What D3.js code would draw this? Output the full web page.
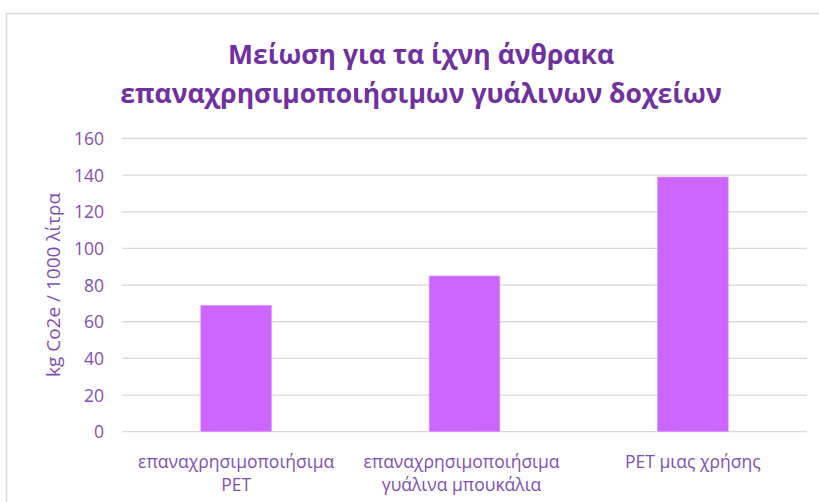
<!DOCTYPE html>
<html><head><meta charset="utf-8">
<script src="https://cdn.jsdelivr.net/npm/d3@7"></script>
<style>body{margin:0;background:#fff}svg{display:block}</style>
</head><body>
<svg id="c" width="819" height="502"></svg>
<script>
const titleLines = ["Μείωση για τα ίχνη άνθρακα", "επαναχρησιμοποιήσιμων γυάλινων δοχείων"];
const categories = [["επαναχρησιμοποιήσιμα", "PET"], ["επαναχρησιμοποιήσιμα", "γυάλινα μπουκάλια"], ["PET μιας χρήσης"]];
const values = [69, 85, 139];
const yTicks = [0, 20, 40, 60, 80, 100, 120, 140, 160];
const yTitle = "kg Co2e / 1000 λίτρα";

const svg = d3.select("#c");
const font = "'Open Sans', 'Noto Sans', sans-serif";
const txtColor = "#7F4FB5";
svg.append("rect").attr("x", 6.5).attr("y", 13.5).attr("width", 830).attr("height", 500)
  .attr("fill", "#fff").attr("stroke", "#d9d9d9").attr("stroke-width", 1.5);

const x = d3.scaleBand().domain(d3.range(values.length)).range([122, 807]).paddingInner(0.69).paddingOuter(0.345);
const y = d3.scaleLinear().domain([0, 160]).range([431.7, 138.5]);

const g = svg.append("g");
g.selectAll("line.grid").data(yTicks).join("line")
  .attr("x1", 122).attr("x2", 807).attr("y1", d => y(d)).attr("y2", d => y(d))
  .attr("stroke", "#d9d9d9").attr("stroke-width", 1.3);

const yAxis = d3.axisLeft(y).tickValues(yTicks).tickSize(0).tickPadding(0);
const ya = svg.append("g").attr("transform", "translate(104,0)").call(yAxis);
ya.select(".domain").remove();
ya.selectAll("text").attr("font-family", font).attr("font-size", 17.5).attr("fill", txtColor).attr("dy", "0.35em");

g.selectAll("rect.bar").data(values).join("rect")
  .attr("x", (d, i) => x(i)).attr("width", x.bandwidth())
  .attr("y", d => y(d)).attr("height", d => y(0) - y(d))
  .attr("fill", "#CC66FF").attr("stroke", "#DFA0FF").attr("stroke-width", 0.6);

const xl = svg.append("g");
const xOff = [0, -3, 0];
categories.forEach((lines, i) => {
  const t = xl.append("text").attr("text-anchor", "middle").attr("font-family", font)
    .attr("font-size", 17.5).attr("fill", txtColor);
  lines.forEach((ln, j) => t.append("tspan").attr("x", x(i) + x.bandwidth() / 2 + xOff[i]).attr("y", 468 + j * 23).text(ln));
});

svg.append("text").attr("transform", "translate(60,285) rotate(-90)").attr("text-anchor", "middle")
  .attr("font-family", font).attr("font-size", 19).attr("fill", txtColor).text(yTitle);

const tt = svg.append("text").attr("text-anchor", "middle").attr("font-family", font)
  .attr("font-size", 26.5).attr("font-weight", "bold").attr("fill", "#7030A0");
titleLines.forEach((ln, j) => tt.append("tspan").attr("x", 421).attr("y", 64 + j * 39).text(ln));
</script>
</body></html>
